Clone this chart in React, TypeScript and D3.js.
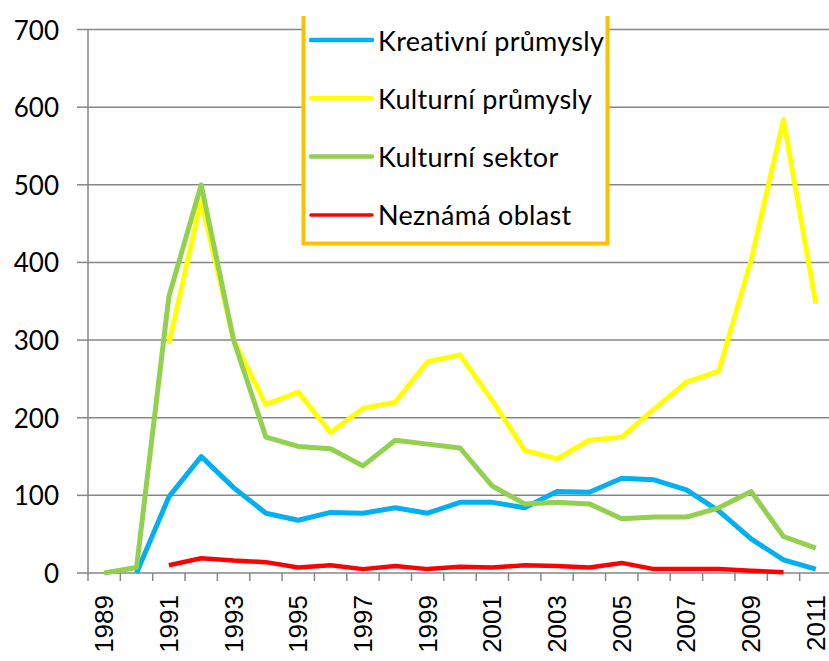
import React from "react";
import * as d3 from "d3";

// years on the category axis
const years = [
  1989, 1990, 1991, 1992, 1993, 1994, 1995, 1996, 1997, 1998, 1999, 2000,
  2001, 2002, 2003, 2004, 2005, 2006, 2007, 2008, 2009, 2010, 2011,
];

// values per year, null = no data
const kreativni = [
  null, 0, 98, 150, 110, 77, 68, 78, 77, 84, 77, 91, 91, 84, 105, 104, 122,
  120, 107, 80, 44, 17, 5,
];
const kulturniPrumysly = [
  null, null, 295, 480, 300, 217, 233, 181, 212, 220, 272, 281, 222, 158,
  147, 171, 175, 211, 246, 260, 403, 584, 347,
];
const kulturniSektor = [
  0, 7, 356, 500, 300, 175, 163, 160, 138, 171, 166, 161, 112, 89, 91, 89,
  70, 72, 72, 84, 105, 47, 32,
];
const neznama = [
  null, null, 10, 19, 16, 14, 7, 10, 5, 9, 5, 8, 7, 10, 9, 7, 13, 5, 5, 5, 3,
  1, null,
];

const seriesNames = [
  "Kreativní průmysly",
  "Kulturní průmysly",
  "Kulturní sektor",
  "Neznámá oblast",
];
const seriesColors = ["#00B0F0", "#FFFF00", "#92D050", "#FF0000"];
const yTicks = [0, 100, 200, 300, 400, 500, 600, 700];

const W = 829;
const H = 661;
const left = 88;
const right = 832;
const top = 29.5;
const bottom = 573;

export default function App() {
  const x = d3.scaleBand<number>().domain(years).range([left, right]);
  const y = d3.scaleLinear().domain([0, 700]).range([bottom, top]);
  const cx = (yr: number) => (x(yr) as number) + x.bandwidth() / 2;

  const allSeries = [kreativni, kulturniPrumysly, kulturniSektor, neznama];
  const line = d3
    .line<number | null>()
    .defined((d) => d != null)
    .x((_, i) => cx(years[i]))
    .y((d) => y(d as number));

  const boundaries = years.map((yr) => x(yr) as number).concat(right);

  const font = "Lato, 'Liberation Sans', sans-serif";

  return (
    <svg
      width={W}
      height={H}
      style={{ position: "absolute", left: 0, top: 0, background: "#fff" }}
    >
      {/* grid + y axis */}
      {yTicks.map((t) => (
        <g key={t}>
          {t > 0 && (
            <line x1={left} x2={right} y1={y(t)} y2={y(t)} stroke="#868686" strokeWidth={1.5} />
          )}
          <line x1={77} x2={left} y1={y(t)} y2={y(t)} stroke="#868686" strokeWidth={1.5} />
          <text
            x={59}
            y={y(t)}
            textAnchor="end"
            dominantBaseline="central"
            fontFamily={font}
            fontSize={26}
            fill="#000"
          >
            {t}
          </text>
        </g>
      ))}
      <line x1={left} x2={left} y1={top} y2={bottom} stroke="#868686" strokeWidth={1.5} />
      <line x1={left} x2={right} y1={bottom} y2={bottom} stroke="#868686" strokeWidth={1.5} />
      {boundaries.map((b, i) => (
        <line key={i} x1={b} x2={b} y1={bottom} y2={bottom + 8} stroke="#868686" strokeWidth={1.5} />
      ))}
      {years
        .filter((yr) => yr % 2 === 1)
        .map((yr) => (
          <text
            key={yr}
            transform={`translate(${cx(yr)},595) rotate(-90)`}
            textAnchor="end"
            dominantBaseline="central"
            fontFamily="'Liberation Sans', Arial, sans-serif"
            fontSize={26}
            fill="#000"
          >
            {yr}
          </text>
        ))}

      {/* series */}
      {allSeries.map((s, i) => (
        <path
          key={i}
          d={line(s) || ""}
          fill="none"
          stroke={seriesColors[i]}
          strokeWidth={i === 3 ? 4.5 : 5}
          strokeLinejoin="round"
        />
      ))}

      {/* legend */}
      <rect x={303} y={14} width={305} height={230} fill="#fff" />
      <path d="M303.5,16V243.5H607.5V16" fill="none" stroke="#FFC000" strokeWidth={4} />
      {seriesNames.map((n, i) => {
        const ly = 40 + i * 58.3;
        return (
          <g key={n}>
            <line x1={311} x2={372} y1={ly} y2={ly} stroke={seriesColors[i]} strokeWidth={i === 3 ? 3.5 : 4.5} strokeLinecap="round" />
            <text
              x={378}
              y={ly}
              dominantBaseline="central"
              fontFamily={font}
              fontSize={27}
              letterSpacing={0.3}
              fill="#000"
            >
              {n}
            </text>
          </g>
        );
      })}
    </svg>
  );
}
